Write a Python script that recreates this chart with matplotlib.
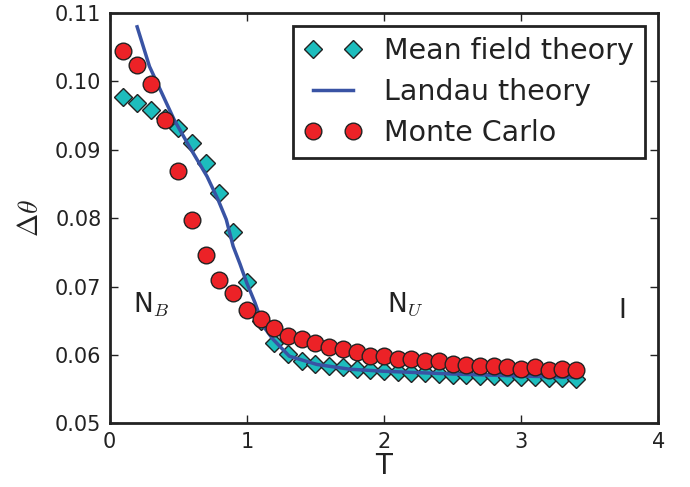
import matplotlib
matplotlib.use("Agg")
import matplotlib.pyplot as plt
import numpy as np

plt.rcParams['mathtext.fontset'] = 'cm'
plt.rcParams['font.family'] = ['DejaVu Sans']

T_pts = [round(0.1 * i, 1) for i in range(1, 35)]
mf_vals = [0.0977, 0.0969, 0.0958, 0.0946, 0.0932, 0.0910, 0.0881, 0.0837, 0.0780, 0.0707,
           0.0650, 0.0618, 0.0601, 0.0591, 0.0586, 0.0583, 0.0582, 0.0580, 0.0578, 0.0576,
           0.0575, 0.0574, 0.0573, 0.0572, 0.0571, 0.0570, 0.0569, 0.0569, 0.0568, 0.0567,
           0.0567, 0.0566, 0.0566, 0.0565]
mc_vals = [0.1045, 0.1024, 0.0997, 0.0944, 0.0869, 0.0797, 0.0746, 0.0709, 0.0691, 0.0665,
           0.0652, 0.0639, 0.0627, 0.0623, 0.0618, 0.0611, 0.0608, 0.0604, 0.0599, 0.0599,
           0.0594, 0.0594, 0.0591, 0.0591, 0.0586, 0.0585, 0.0584, 0.0583, 0.0582, 0.0580,
           0.0582, 0.0578, 0.0580, 0.0578]
landau_T = [0.2, 0.29, 0.38, 0.47, 0.58, 0.71, 0.79, 0.85, 0.9, 0.95, 1.0, 1.06, 1.12, 1.19,
            1.31, 1.51, 1.75, 2.0, 2.5, 3.0, 3.4]
landau_vals = [0.1080, 0.1022, 0.0983, 0.0944, 0.0905, 0.0861, 0.0827, 0.0798, 0.0759, 0.0733,
               0.0705, 0.0676, 0.0642, 0.0623, 0.0598, 0.0586, 0.0579, 0.0576, 0.0572, 0.0569,
               0.0567]

cyan = '#1dbdbd'
red = '#ec2227'
blue = '#3953a4'

fig = plt.figure(figsize=(6.9, 4.87), dpi=100)
ax = fig.add_axes([0.159, 0.131, 0.795, 0.842])

ax.plot(T_pts, mf_vals, 'D', color=cyan, markersize=8.7, markeredgecolor='#222222',
        markeredgewidth=1.0, label='Mean field theory', zorder=2)
ax.plot(landau_T, landau_vals, '-', color=blue, linewidth=2.5, label='Landau theory', zorder=3)
ax.plot(T_pts, mc_vals, 'o', color=red, markersize=12, markeredgecolor='#222222',
        markeredgewidth=1.0, label='Monte Carlo', zorder=4)

ax.set_xlim(0, 4)
ax.set_ylim(0.05, 0.11)
ax.set_xticks([0, 1, 2, 3, 4])
ax.set_yticks([0.05, 0.06, 0.07, 0.08, 0.09, 0.10, 0.11])
ax.set_yticklabels(['0.05', '0.06', '0.07', '0.08', '0.09', '0.10', '0.11'])
ax.tick_params(direction='in', length=6, width=1, top=True, right=True,
               labelsize=15, colors='#222222', pad=6)
for s in ax.spines.values():
    s.set_linewidth(2)
    s.set_color('#222222')

ax.set_xlabel('T', fontsize=20, color='#222222', labelpad=0)
ax.set_ylabel(r'$\Delta\theta$', fontsize=20, color='#222222', labelpad=8)

ax.text(0.17, 0.0674, r'N$_B$', fontsize=19, color='#222222', va='center', ha='left')
ax.text(2.02, 0.0674, r'N$_U$', fontsize=19, color='#222222', va='center', ha='left')
ax.text(3.74, 0.0664, 'I', fontsize=19, color='#222222', va='center', ha='center')

leg = ax.legend(loc='upper right', numpoints=2, fontsize=20.5, fancybox=False,
                edgecolor='#222222', framealpha=1, handlelength=2.0,
                borderaxespad=0.45, labelspacing=0.45)
leg.get_frame().set_linewidth(2)
for t in leg.get_texts():
    t.set_color('#222222')

fig.savefig('out.png', dpi=100)
